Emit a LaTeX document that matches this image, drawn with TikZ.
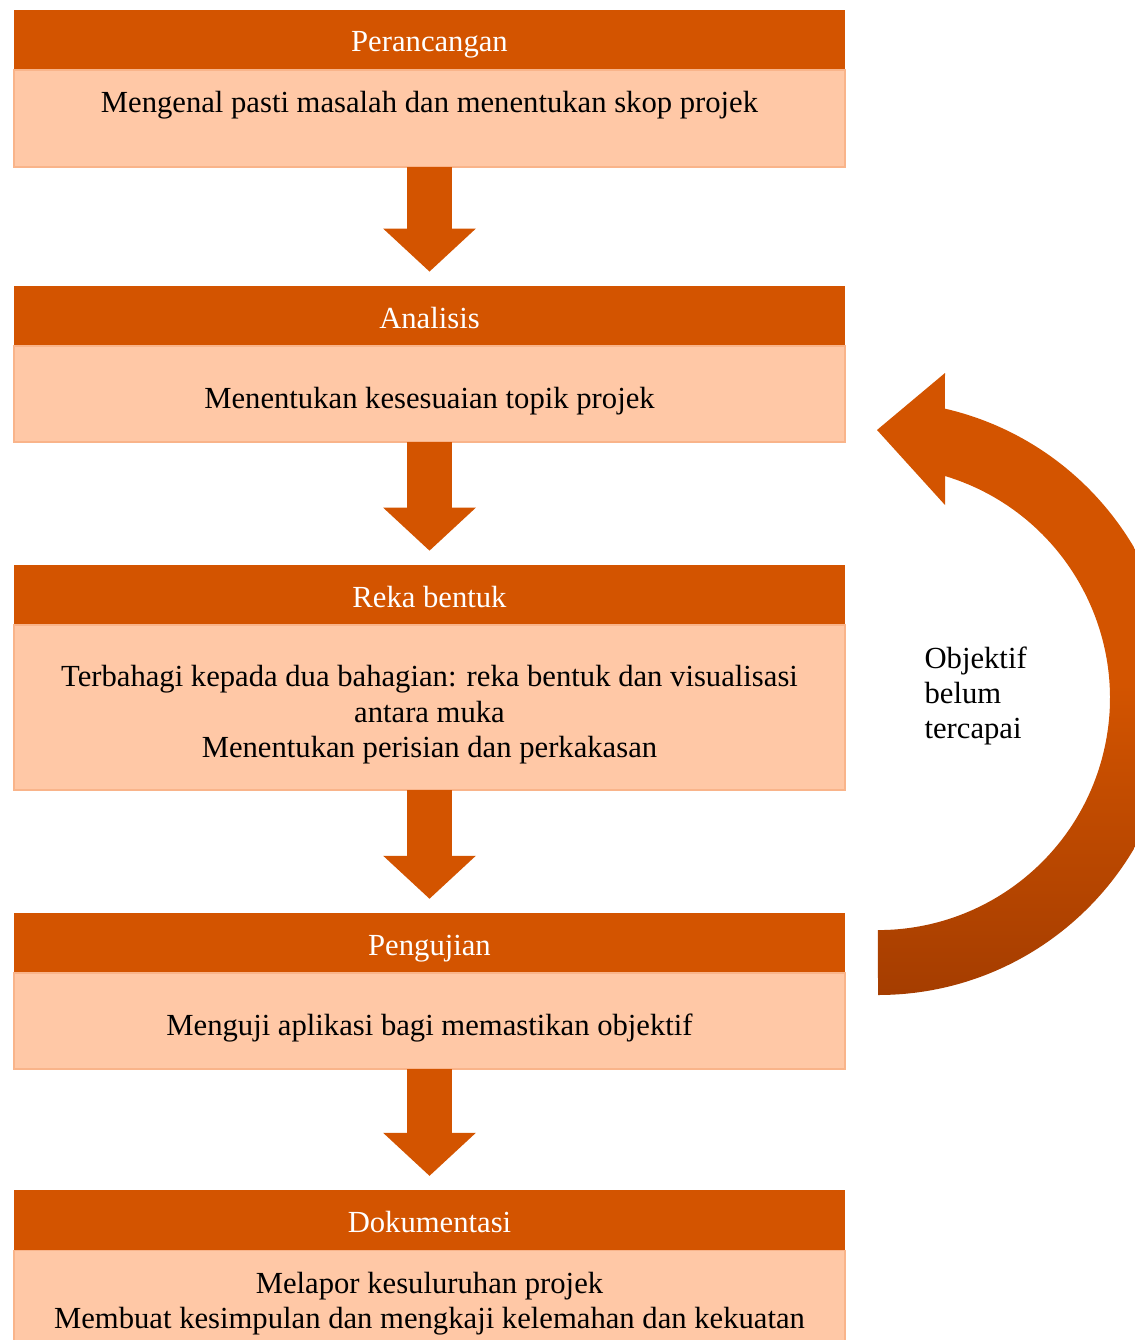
\documentclass[tikz,border=0pt]{standalone}
\usepackage{fontspec}
\setmainfont{Liberation Serif}
\usetikzlibrary{positioning, arrows.meta}
\definecolor{fluxorange}{HTML}{D35400}
\definecolor{fluxpeach}{HTML}{FFC8A6}
\definecolor{fluxline}{HTML}{F9B48A}
\definecolor{fluxdark}{HTML}{A53D00}

\begin{document}
\begin{tikzpicture}[x=0.0125cm, y=-0.0125cm, font=\fontsize{10.9}{12.6}\selectfont,
    head/.style={fill=fluxorange, text=white, minimum width=10.3875cm, minimum height=0.75cm, inner sep=0pt, outer sep=0pt,
      text height=0.85em, text depth=0pt},
    body/.style={fill=fluxpeach, draw=fluxline, line width=0.6pt, minimum width=10.3875cm, align=center, inner sep=0pt,
      outer sep=0pt, text height=1em, text depth=0pt},
    flow/.style={fluxorange, line width=0.55cm, -{Triangle[length=0.5375cm, width=1.125cm]}, shorten >=0.18cm}]
      \useasboundingbox (0,0) rectangle (1135,1340);

      \node[head] (head1) at (429.5,40) {Perancangan};
      \node[body, minimum height=1.2125cm, text depth=1.45em, below=0pt of head1] (body1) {Mengenal pasti masalah dan menentukan skop projek};
      \node[head, below=1.4875cm of body1] (head2) {Analisis};
      \node[body, minimum height=1.2cm, below=0pt of head2] (body2) {Menentukan kesesuaian topik projek};
      \node[head, below=1.5375cm of body2] (head3) {Reka bentuk};
      \node[body, minimum height=2.0625cm, text height=35.4pt, below=0pt of head3] (body3) {Terbahagi kepada dua bahagian: reka bentuk dan visualisasi\\antara muka\\Menentukan perisian dan perkakasan};
      \node[head, below=1.5375cm of body3] (head4) {Pengujian};
      \node[body, minimum height=1.2cm, below=0pt of head4] (body4) {Menguji aplikasi bagi memastikan objektif};
      \node[head, below=1.5125cm of body4] (head5) {Dokumentasi};
      \node[body, minimum height=1.25cm, text height=20pt, below=0pt of head5] (body5) {Melapor kesuluruhan projek\\Membuat kesimpulan dan mengkaji kelemahan dan kekuatan};

      \foreach \a/\b in {body1/head2, body2/head3, body3/head4, body4/head5}
      \draw[flow] (\a) -- (\b);

      % loop back when the objective is not met
      \shade[top color=fluxorange, bottom color=fluxdark, middle color=fluxorange] (878,995) arc[start angle=90, end angle=-77, radius=297]
      -- (945,373) -- (877,430) -- (945,505) -- (945,476) arc[start angle=-73.2, end angle=90, radius=232] -- cycle;
      \node[align=left, anchor=west, inner sep=0pt] (note) at (924,696) {Objektif\\belum\\tercapai};
    \end{tikzpicture}
\end{document}
